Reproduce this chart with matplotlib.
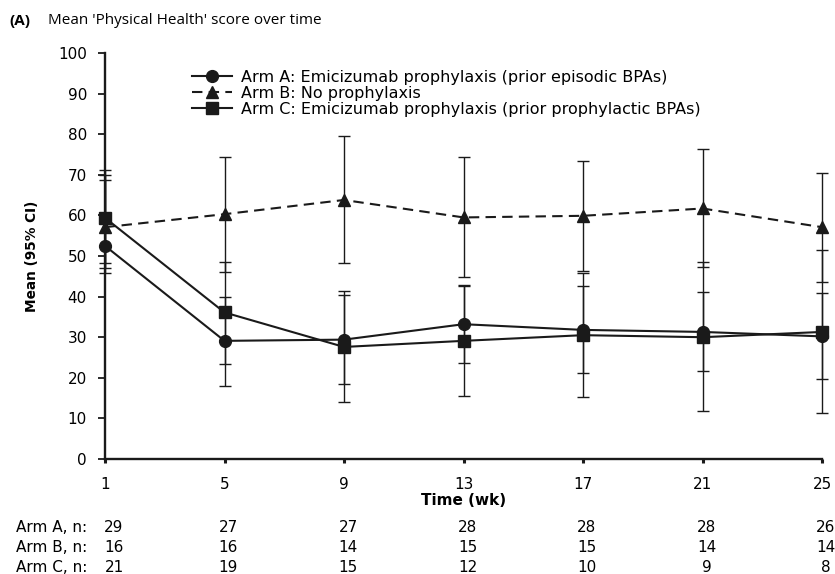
import numpy as np
import matplotlib
matplotlib.use("Agg")
import matplotlib.pyplot as plt

plt.rcParams['font.family'] = ['DejaVu Sans']

weeks = [1, 5, 9, 13, 17, 21, 25]

# Arm A: Emicizumab prophylaxis (prior episodic BPAs)
arm_a = [52.5, 29.1, 29.4, 33.2, 31.8, 31.3, 30.2]
arm_a_lo = [47.0, 18.1, 18.4, 23.6, 21.3, 21.7, 19.6]
arm_a_hi = [70.0, 40.0, 40.4, 42.9, 42.7, 41.2, 41.0]

# Arm B: No prophylaxis
arm_b = [57.1, 60.3, 63.8, 59.5, 59.9, 61.7, 57.1]
arm_b_lo = [45.8, 46.1, 48.2, 44.9, 46.4, 47.4, 43.7]
arm_b_hi = [68.7, 74.5, 79.6, 74.5, 73.5, 76.3, 70.5]

# Arm C: Emicizumab prophylaxis (prior prophylactic BPAs)
arm_c = [59.4, 36.1, 27.6, 29.1, 30.5, 30.0, 31.3]
arm_c_lo = [48.3, 23.5, 14.1, 15.6, 15.2, 11.7, 11.3]
arm_c_hi = [71.2, 48.6, 41.5, 42.6, 45.7, 48.4, 51.5]

n_labels = ["Arm A, n:", "Arm B, n:", "Arm C, n:"]
n_a = [29, 27, 27, 28, 28, 28, 26]
n_b = [16, 16, 14, 15, 15, 14, 14]
n_c = [21, 19, 15, 12, 10, 9, 8]

W, H = 835, 574
fig = plt.figure(figsize=(W/100, H/100), dpi=100)
ax = fig.add_axes([105/W, 1 - 459/H, (822 - 105)/W, (459 - 53)/H])
ink = '#1a1a1a'

def draw_arm(mean, lo, hi, marker, ls, label):
    mean = np.array(mean)
    yerr = [mean - np.array(lo), np.array(hi) - mean]
    ax.errorbar(weeks, mean, yerr=yerr, fmt='none', ecolor=ink,
                elinewidth=1.0, capsize=4.5, capthick=1.0, zorder=2, clip_on=False)
    ax.plot(weeks, mean, color=ink, ls=ls, lw=1.5, marker=marker,
            ms=8.5, label=label, zorder=3, clip_on=False)

draw_arm(arm_a, arm_a_lo, arm_a_hi, 'o', '-', 'Arm A: Emicizumab prophylaxis (prior episodic BPAs)')
draw_arm(arm_b, arm_b_lo, arm_b_hi, '^', (0, (5, 3)), 'Arm B: No prophylaxis')
draw_arm(arm_c, arm_c_lo, arm_c_hi, 's', '-', 'Arm C: Emicizumab prophylaxis (prior prophylactic BPAs)')

ax.set_xlim(1, 25)
ax.set_ylim(0, 100)
ax.set_xticks(weeks)
ax.set_yticks(range(0, 101, 10))
ax.tick_params(axis='both', labelsize=11, color=ink)
ax.tick_params(axis='y', direction='out', length=5, width=1.3, pad=8)
ax.tick_params(axis='x', direction='out', length=3, width=2.2, pad=10)
for side in ['top', 'right']:
    ax.spines[side].set_visible(False)
for side in ['left', 'bottom']:
    ax.spines[side].set_linewidth(1.7)
    ax.spines[side].set_color(ink)

ax.set_ylabel('Mean (95% CI)', fontsize=9.8, fontweight='bold', labelpad=14)
ax.set_xlabel('Time (wk)', fontsize=11, fontweight='bold', labelpad=1)

leg = fig.legend(*ax.get_legend_handles_labels(), loc='upper left',
                 bbox_to_anchor=(192/W, 1 - 70/H), bbox_transform=fig.transFigure,
                 frameon=False, fontsize=11.5, handlelength=2.5, handletextpad=0.55,
                 labelspacing=0.05, borderpad=0, borderaxespad=0)

fig.text(9/W, 1 - 21/H, '(A)', fontsize=11, fontweight='bold', va='center',
         family=['Open Sans', 'DejaVu Sans'])
fig.text(48/W, 1 - 21/H, "Mean 'Physical Health' score over time", fontsize=11,
         va='center', family=['Open Sans', 'DejaVu Sans'])

# numbers at risk table
row_y = [528, 548, 567]
for lab, counts, yp in zip(n_labels, [n_a, n_b, n_c], row_y):
    fig.text(16/W, 1 - yp/H, lab, fontsize=11, va='center')
    for i, (w, c) in enumerate(zip(weeks, counts)):
        xp = ax.transData.transform((w, 0))[0]
        xp += 9 if i == 0 else 4
        fig.text(xp/W, 1 - yp/H, str(c), fontsize=11, va='center', ha='center')

fig.savefig('out.png', dpi=100)
